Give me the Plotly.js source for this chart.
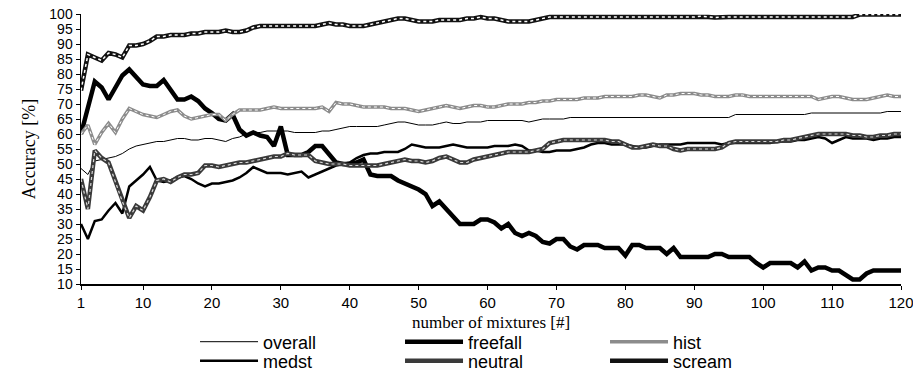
<!DOCTYPE html>
<html>
<head>
<meta charset="utf-8">
<script src="https://cdn.plot.ly/plotly-3.0.1.min.js"></script>
<style>html,body{margin:0;padding:0;background:#fff;}#chart{width:913px;height:372px;}</style>
</head>
<body>
<div id="chart"></div>
<script>
// Number of mixtures (x categories)
const mixtures = Array.from({length: 120}, (_, i) => i + 1);

const xTickVals = [1, 10, 20, 30, 40, 50, 60, 70, 80, 90, 100, 110, 120];
const xTickText = ["1", "10", "20", "30", "40", "50", "60", "70", "80", "90", "100", "110", "120"];
const yTickVals = [10, 15, 20, 25, 30, 35, 40, 45, 50, 55, 60, 65, 70, 75, 80, 85, 90, 95, 100];
const yGridVals = [15, 20, 25, 30, 35, 40, 45, 50, 55, 60, 65, 70, 75, 80, 85, 90, 95];

const overall = [48.5,46.5,51,51.5,52,52.5,53.5,55,56,56.5, 57,57.5,57.5,58,58.5,58.5,58,58,58.5,58.5,
  58,57.5,58.5,59,60,60.5,60.5,61,61,61, 61,60.5,60.5,60.5,60.5,61,61,61.5,62,62.5,
  62.5,62.5,62.5,62.5,63,63.5,64,64,63.5,63, 63,63,63.5,64,63.5,63.5,64,64,64,64.5,
  64.5,64.5,64.5,64.5,64.5,64,64.5,65,65,65, 65,65.5,65.5,65.5,65.5,65.5,65.5,65.5,65.5,65.5,
  65.5,65.5,65.5,65.5,65.5,65.5,65.5,65.5,65.5,65.5, 65.5,65.5,65.5,65.5,65.5,66.5,66.5,66.5,66.5,66.5,
  66.5,66.5,66.5,66.5,66.5,66.5,67,67,67,67, 67,67,67,67,67,67,67,67.5,67.5,67.5];

const freefall = [60,69,77.5,75.5,71.5,75.5,79.5,81.5,79,76.5, 76,76,78,75,71.5,71.5,72.5,71,68.5,67,
  65,64.5,66.5,61.5,59.5,60.5,59.5,59,56,62.5, 53,53,53,54,56,56,53.5,50.5,50,50,
  50.5,51.5,46.5,46,46,46,44.5,43.5,42.5,41.5, 40,36,37.5,35,32,30,30,30,31.5,31.5,
  30.5,28.5,30,27,26,27,26,24,23.5,25, 25,22.5,21.5,23,23,23,22,22,22,19.5,
  23,23,22,22,22,20,22,19,19,19, 19,19,20,20,19,19,19,19,17,15.5,
  17,17,17,17,15.5,17.5,14.5,15.5,15.5,14.5, 14.5,13,11.5,11.5,13.5,14.5,14.5,14.5,14.5,14.5];

const hist = [60,63,56.5,60.5,63.5,60.5,65,68.5,67.5,66.5, 66,65.5,66.5,67.5,68,66,65,65.5,66,66.5,
  66.5,64.5,66.5,68,68,68,68,68.5,69,68.5, 68.5,68.5,68.5,68.5,68.5,69,67.5,70.5,70,70,
  69.5,69,69,69,69,68.5,68.5,68.5,68,67.5, 68,68.5,69,69.5,69,68.5,69,69.5,69.5,69,
  69,69.5,70,70,70,70.5,70.5,71,71,71.5, 71.5,71.5,71.5,72,72,72,72.5,72.5,72.5,72.5,
  72.5,73,73,72.5,72,73,73,73.5,73.5,73.5, 73,73,72.5,72.5,72.5,73,73,72.5,72.5,72.5,
  72.5,72.5,72.5,72.5,72.5,72.5,72.5,71.5,72,72.5, 72.5,72,71.5,71.5,71.5,72,72.5,73,72.5,72.5];

const medst = [30,25,31,31.5,34.5,37,33.5,42.5,44.5,46.5, 49,44.5,44,44.5,45.5,46,45,43.5,42.5,43.5,
  43.5,44,44.5,45.5,47,49,48,47,47,47, 46.5,47,47.5,45.5,46.5,47.5,48.5,49.5,50,50.5,
  52,53,53.5,53.5,54,54,54,55,56.5,56, 55.5,55.5,55.5,56,56.5,56,55.5,55.5,55.5,55.5,
  56,56,56,56.5,56,54.5,54.5,54,54,54.5, 54.5,54.5,55,55.5,56.5,57,57,56.5,56.5,56.5,
  56,55.5,55.5,56,56.5,56.5,56.5,56.5,57,57, 57,57,57,56.5,57,57,57,57,57,57,
  57,57.5,57.5,57.5,58,58,58.5,59,58.5,57, 58,59,58.5,58.5,58.5,58,58.5,58.5,59,59];

const neutral = [45,35,54.5,52,50.5,44,37.5,32,36,34.5, 39,44.5,45,44,45.5,46.5,46.5,47,49.5,49.5,
  49,49.5,50,50.5,50.5,51,51.5,52,52.5,52.5, 53.5,53,53,53,51,50.5,50,50,50,49.5,
  49.5,49.5,49.5,49.5,50,50.5,51,51.5,51,51, 50.5,51,52,52.5,51.5,50.5,50.5,51.5,52,52.5,
  53,53.5,54,54,54,54,54.5,55,57,57.5, 58,58,58,58,58,58,58,57.5,57.5,56.5,
  55.5,55.5,56,56.5,56,56,55,54.5,55,55, 55,55,55,55.5,57,57.5,57.5,57.5,57.5,57.5,
  57.5,57.5,58,58,58.5,59,59.5,60,60,60, 60,60,59.5,59.5,59,59,59.5,59.5,60,60];

const scream = [74.5,86.5,85.5,84.5,87,86.5,85.5,89.5,89.5,90, 91,92.5,92.5,93,93,93,93.5,93.5,94,94,
  94,94.5,94,94,94.5,95.5,96,96,96,96, 96,96,96,96,96,96.5,97,96.5,96.5,96,
  96,96,96.5,97,97.5,98,98.5,98.5,98,97.5, 97.5,97.5,98,98,98,98,98.5,98.5,99,98.5,
  98.5,98,97.5,97.5,97.5,97.5,98,98.5,99,99, 99,99,99,99,99,99,99,99,99,99,
  99,99,99,99,99,99,99,99,99,99, 99.3,99,98.8,99,99,99,99,99,99,99,
  99,99,99,99,99,99,99,99,99,99, 99,99,99,99.8,99.8,99.8,99.8,99.8,99.8,99.8];

const seriesNames = ["overall", "freefall", "hist", "medst", "neutral", "scream"];
const xTitle = 'number of mixtures [#]';
const yTitle = 'Accuracy [%]';

function line(name, y, color, width, legendId, group) {
  return {
    type: 'scatter', mode: 'lines', name: name, x: mixtures, y: y,
    line: {color: color, width: width}, hoverinfo: 'skip',
    legend: legendId, legendgroup: group || name
  };
}
function pattern(y, color, width, legendId, group) {
  return {
    type: 'scatter', mode: 'lines', x: mixtures, y: y, showlegend: false,
    legend: legendId, legendgroup: group,
    line: {color: color, width: width, dash: 'dot'}, hoverinfo: 'skip'
  };
}

const traces = [
  line(seriesNames[0], overall, '#000000', 1, 'legend'),
  line(seriesNames[1], freefall, '#000000', 4.5, 'legend'),
  line(seriesNames[2], hist, '#8c8c8c', 3.5, 'legend'),
  pattern(hist, '#ffffff', 1, 'legend', 'hist'),
  line(seriesNames[3], medst, '#000000', 2.5, 'legend2'),
  line(seriesNames[4], neutral, '#3a3a3a', 4.5, 'legend2'),
  pattern(neutral, '#d8d8d8', 1.2, 'legend2', 'neutral'),
  line(seriesNames[5], scream, '#111111', 4.5, 'legend2'),
  pattern(scream, '#ffffff', 1.5, 'legend2', 'scream')
];

const sans = 'Liberation Sans, Arial, sans-serif';
const serif = 'Liberation Serif, Times New Roman, serif';

const legendBase = {
  orientation: 'h', xref: 'container', yref: 'container',
  x: 0.2136, xanchor: 'left', yanchor: 'middle',
  entrywidth: 132, entrywidthmode: 'pixels', itemwidth: 58,
  font: {family: sans, size: 18, color: '#000'},
  bgcolor: 'rgba(0,0,0,0)', tracegroupgap: 0, traceorder: 'normal'
};

const layout = {
  width: 913, height: 372,
  margin: {l: 81, r: 12, t: 14, b: 88},
  paper_bgcolor: '#ffffff', plot_bgcolor: '#ffffff',
  showlegend: true,
  xaxis: {
    range: [1, 120], tickvals: xTickVals, ticktext: xTickText,
    ticks: 'outside', ticklen: 4, tickcolor: '#000', tickwidth: 1,
    showline: true, linecolor: '#000', linewidth: 1.5,
    showgrid: false, zeroline: false, ticklabeloverflow: 'allow',
    tickfont: {family: sans, size: 15, color: '#000'}
  },
  yaxis: {
    range: [10, 100], tickvals: yTickVals,
    ticks: 'outside', ticklen: 4, tickcolor: '#000', tickwidth: 1,
    showline: true, linecolor: '#000', linewidth: 1.5,
    showgrid: false, zeroline: false, ticklabeloverflow: 'allow',
    tickfont: {family: sans, size: 14, color: '#000'},
    title: {text: yTitle, font: {family: serif, size: 18, color: '#000'}}
  },
  yaxis2: {
    overlaying: 'y', range: [10, 100], tickvals: yGridVals,
    showticklabels: false, ticks: '', showline: false, zeroline: false,
    showgrid: true, gridcolor: '#c4c4c4', gridwidth: 1.5, griddash: '6px,4px'
  },
  annotations: [{
    text: xTitle, xref: 'paper', yref: 'paper', x: 0.5, y: -0.143,
    xanchor: 'center', yanchor: 'middle', showarrow: false,
    font: {family: serif, size: 17, color: '#000'}
  }],
  legend: Object.assign({}, legendBase, {y: 1 - 342 / 372}),
  legend2: Object.assign({}, legendBase, {y: 1 - 361 / 372})
};

Plotly.newPlot('chart', traces, layout, {displayModeBar: false, staticPlot: true});
</script>
</body>
</html>
